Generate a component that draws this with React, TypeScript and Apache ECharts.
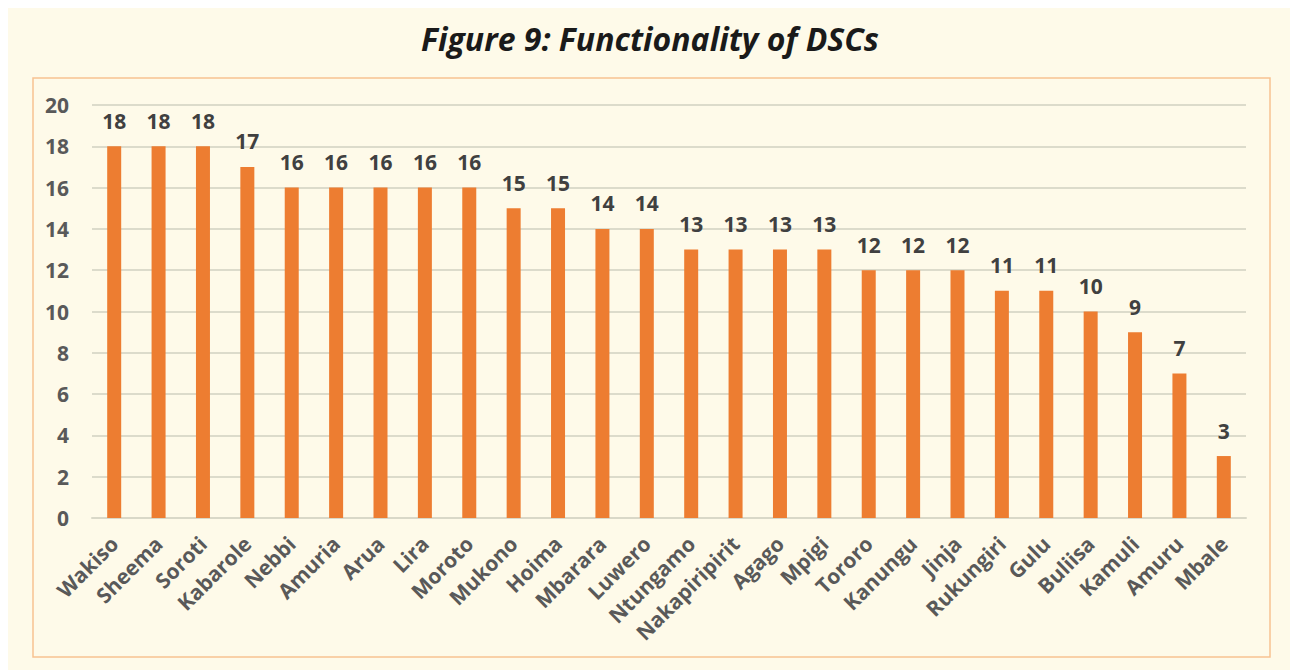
import React, { useEffect, useRef } from "react";
import * as echarts from "echarts";

const categories = ["Wakiso","Sheema","Soroti","Kabarole","Nebbi","Amuria","Arua","Lira","Moroto","Mukono","Hoima","Mbarara","Luwero","Ntungamo","Nakapiripirit","Agago","Mpigi","Tororo","Kanungu","Jinja","Rukungiri","Gulu","Buliisa","Kamuli","Amuru","Mbale"];
const values = [18,18,18,17,16,16,16,16,16,15,15,14,14,13,13,13,13,12,12,12,11,11,10,9,7,3];
const title = "Figure 9: Functionality of DSCs";

export default function App() {
  const ref = useRef<HTMLDivElement>(null);
  useEffect(() => {
    const chart = echarts.init(ref.current!, null, { renderer: "svg" });
    chart.setOption({
      animation: false,
      backgroundColor: "#ffffff",
      graphic: [
        { type: "rect", z: -10, shape: { x: 8, y: 8, width: 1282, height: 662 }, style: { fill: "#FEFAE9" } },
        { type: "rect", z: -9, shape: { x: 33, y: 78, width: 1237, height: 579 }, style: { fill: "none", stroke: "#F8C291", lineWidth: 1.5 } },
      ],
      title: {
        text: title,
        left: 645,
        textAlign: "center",
        top: 17,
        textStyle: { fontFamily: "Open Sans", fontStyle: "italic", fontWeight: "bold", fontSize: 32, color: "#1a1a1a" },
      },
      grid: { left: 92, right: 44, top: 105, bottom: 152 },
      xAxis: {
        type: "category",
        data: categories,
        axisLine: { show: true, lineStyle: { color: "#D9D8C8", width: 2 } },
        axisTick: { show: false },
        axisLabel: { rotate: 45, margin: 22, interval: 0, fontFamily: "Open Sans", fontWeight: "bold", fontSize: 21, color: "#595959" },
      },
      yAxis: {
        type: "value",
        min: 0, max: 20, interval: 2,
        axisLine: { show: false },
        axisTick: { show: false },
        splitLine: { lineStyle: { color: "#DCDBCB", width: 2 } },
        axisLabel: { margin: 23, fontFamily: "Open Sans", fontWeight: "bold", fontSize: 21, color: "#595959" },
      },
      series: [{
        type: "bar",
        data: values,
        barWidth: 14,
        itemStyle: { color: "#ED7D31" },
        label: { show: true, position: "top", distance: 15, fontFamily: "Open Sans", fontWeight: "bold", fontSize: 21, color: "#404040" },
      }],
    });
    return () => chart.dispose();
  }, []);
  return <div ref={ref} style={{ position: "fixed", left: 0, top: 0, width: 1290, height: 670 }} />;
}
